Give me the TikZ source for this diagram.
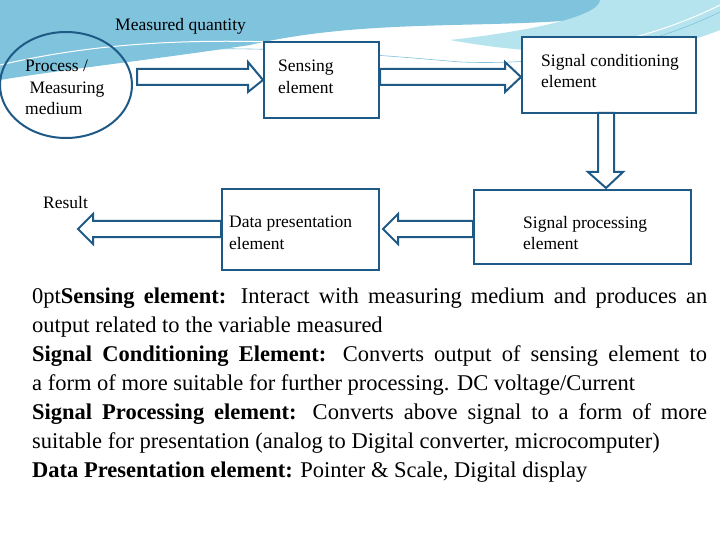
\documentclass[tikz,border=0pt]{standalone}
\usepackage{fontspec}
\setmainfont{Liberation Serif}
\usetikzlibrary{shapes.geometric}
\definecolor{bd}{HTML}{1F5A87}
\definecolor{sky}{HTML}{7FC3DD}
\definecolor{sky2}{HTML}{B5E4EE}
\tikzset{
  box/.style={draw=bd,line width=2pt,fill=white},
  blk/.style={draw=bd,line width=2pt,fill=white,line join=miter},
  lbl/.style={font=\fontsize{17.5}{21.5}\selectfont,align=left,anchor=north west,inner sep=0pt}
}
\begin{document}
\begin{tikzpicture}[x=1pt,y=-1pt]
\useasboundingbox (0,0) rectangle (720,540);
\fill[white] (0,0) rectangle (720,540);
% background swoosh
\fill[sky] (0,0) -- (690,0) .. controls (560,40) and (400,10) .. (250,45) .. controls (150,60) and (60,70) .. (0,80) -- cycle;
\fill[sky2] (600,0) -- (720,0) -- (720,30) .. controls (660,55) and (560,60) .. (450,40) .. controls (540,30) and (600,15) .. (600,0) -- cycle;
\draw[white,line width=1pt] (0,65) .. controls (150,30) and (300,40) .. (460,55) .. controls (560,60) and (650,40) .. (720,5);
\draw[sky,line width=0.6pt] (0,70) .. controls (150,38) and (300,48) .. (460,62) .. controls (560,66) and (650,46) .. (720,12);
% nodes
\node[draw=bd,line width=2pt,ellipse,minimum width=132,minimum height=106] (proc) at (66,85) {};
\node[box,minimum width=115,minimum height=76] (sens) at (321.5,80) {};
\node[box,minimum width=174,minimum height=76] (cond) at (609,75) {};
\node[box,minimum width=217,minimum height=74] (sp) at (582.5,227) {};
\node[box,minimum width=157,minimum height=81] (dp) at (300.5,229.5) {};
\coordinate (res) at (78,229);
% text
\node[lbl] (t1) at (25,60) {Process /\\\ Measuring\\medium};
\node[lbl] (t2) at (278,60) {Sensing\\element};
\node[lbl] (t3) at (541,54) {Signal conditioning\\element};
\node[lbl] (t4) at (523,216) {Signal processing\\element};
\node[lbl] (t5) at (229,216) {Data presentation\\element};
\node[lbl] (t6) at (43,196) {Result};
\node[lbl] (t7) at (115,18) {Measured quantity};
% block arrows
\draw[blk] ([xshift=4]proc.east |- 0,69) -- (248,69) -- (248,62) -- (sens.west) -- (248,92) -- (248,85) -- ([xshift=4]proc.east |- 0,85) -- cycle;
\draw[blk] (sens.east |- 0,69) -- (505,69) -- (505,62) -- (cond.west |- 0,77) -- (505,92) -- (505,85) -- (sens.east |- 0,85) -- cycle;
\draw[blk] (598,113) -- (598,172) -- (588,172) -- (606,188) -- (623,172) -- (614,172) -- (614,113) -- cycle;
\draw[blk] (sp.west |- 0,221) -- (398,221) -- (398,214) -- (383,229) -- (398,244) -- (398,237) -- (sp.west |- 0,237) -- cycle;
\draw[blk] (dp.west |- 0,221) -- (93,221) -- (93,214) -- (res) -- (93,244) -- (93,237) -- (dp.west |- 0,237) -- cycle;
% description
\node[anchor=north west,inner sep=0pt,text width=675,align=justify,font=\fontsize{22.5}{29}\selectfont\spaceskip=0.22em plus 1em minus 0.05em\relax\hbadness=10000\hfuzz=20pt] (desc) at (32,288) {%
\textbf{Sensing element:} Interact with measuring medium and produces an\linebreak output related to the variable measured\newline
\textbf{Signal Conditioning Element:} Converts output of sensing element to\linebreak a form of more suitable for further processing. DC voltage/Current\newline
\textbf{Signal Processing element:} Converts above signal to a form of more\linebreak suitable for presentation (analog to Digital converter, microcomputer)\newline
\textbf{Data Presentation element:} Pointer \& Scale, Digital display};
\end{tikzpicture}
\end{document}
